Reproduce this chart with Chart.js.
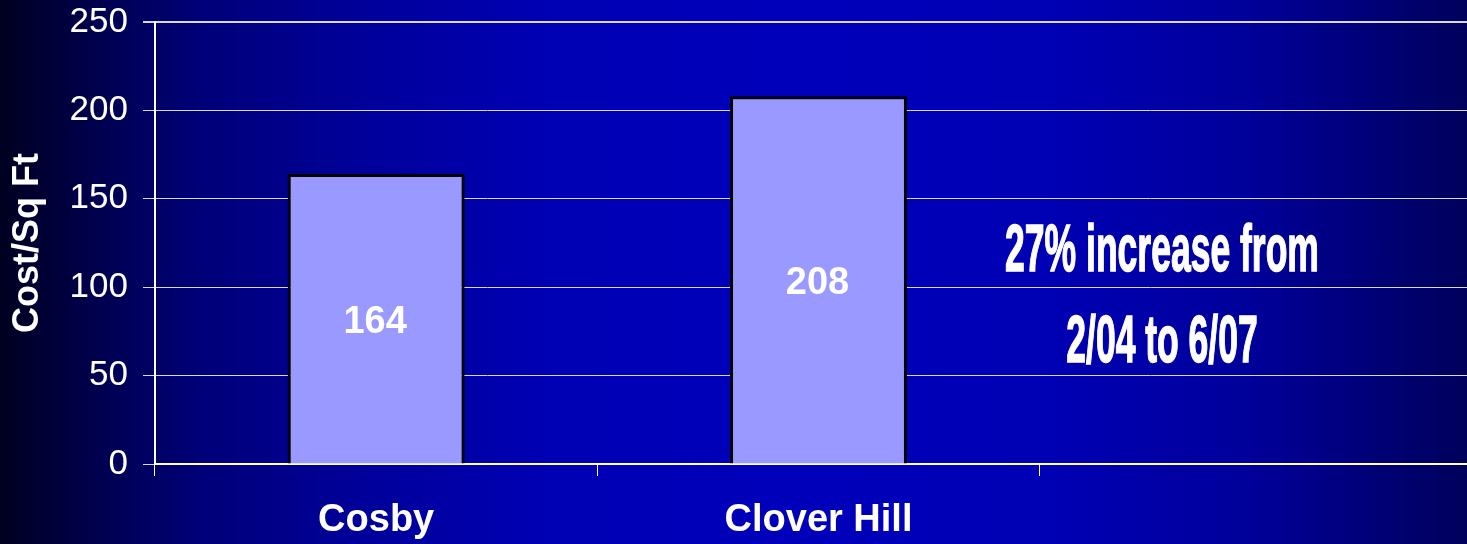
<!DOCTYPE html>
<html>
<head>
<meta charset="utf-8">
<script src="https://cdn.jsdelivr.net/npm/chart.js@4/dist/chart.umd.min.js"></script>
<style>
  html, body { margin: 0; padding: 0; overflow: hidden; }
  body {
    width: 1467px; height: 544px;
    background: linear-gradient(to right, #000020 0px, #000050 100px, #000078 200px, #000098 350px,
      #0000b4 550px, #0000bb 800px, #0000b4 1050px, #00009a 1250px, #00005c 1467px);
  }
  #wrap { width: 1490px; height: 544px; }
</style>
</head>
<body>
<div id="wrap"><canvas id="chart" width="1490" height="544"></canvas></div>
<script>
const categories = ['Cosby', 'Clover Hill', ''];
const costPerSqFt = [164, 208, null];
const yTicks = [0, 50, 100, 150, 200, 250];
const noteLines = ['27% increase from', '2/04 to 6/07'];

const FONT = '"Liberation Sans", Arial, sans-serif';

const valueLabels = {
    id: 'valueLabels',
    afterDatasetsDraw(chart) {
        const ctx = chart.ctx;
        const meta = chart.getDatasetMeta(0);
        ctx.save();
        ctx.fillStyle = '#ffffff';
        ctx.font = 'bold 38px ' + FONT;
        ctx.textAlign = 'center';
        ctx.textBaseline = 'middle';
        meta.data.forEach((bar, i) => {
            if (costPerSqFt[i] == null) return;
            ctx.fillText(String(costPerSqFt[i]), bar.x - 1, (bar.y + bar.base) / 2 + 4);
        });
        ctx.restore();
    }
};

const note = {
    id: 'note',
    afterDraw(chart) {
        const ctx = chart.ctx;
        const area = chart.chartArea;
        ctx.save();
        ctx.fillStyle = '#ffffff';
        ctx.strokeStyle = '#ffffff';
        ctx.lineWidth = 1.5;
        ctx.font = 'bold 67px ' + FONT;
        ctx.textAlign = 'center';
        ctx.textBaseline = 'middle';
        const cx = 1162;
        const ys = [area.top + 231, area.top + 322];
        noteLines.forEach((line, i) => {
            ctx.save();
            ctx.translate(cx, ys[i]);
            ctx.scale(0.53, 1);
            ctx.fillText(line, 0, 0);
            ctx.strokeText(line, 0, 0);
            ctx.restore();
        });
        ctx.restore();
    }
};

new Chart(document.getElementById('chart'), {
    type: 'bar',
    data: {
        labels: categories,
        datasets: [{
            data: costPerSqFt,
            backgroundColor: '#9999ff',
            borderColor: '#000000',
            borderWidth: 3,
            categoryPercentage: 1,
            barPercentage: 0.4
        }]
    },
    options: {
        responsive: false,
        animation: false,
        layout: { padding: { top: 22, right: 8, left: 0, bottom: 0 } },
        plugins: {
            legend: { display: false },
            tooltip: { enabled: false }
        },
        scales: {
            x: {
                afterFit(scale) {
                    scale.height = 80;
                    scale.paddingLeft = 0;
                    scale.paddingRight = 0;
                },
                grid: {
                    offset: true,
                    drawOnChartArea: false,
                    drawTicks: true,
                    tickLength: 12,
                    color: '#ffffff',
                    lineWidth: 1
                },
                border: { color: '#ffffff', width: 2 },
                ticks: {
                    color: '#ffffff',
                    font: { family: FONT, size: 38, weight: 'bold' },
                    padding: 22
                }
            },
            y: {
                min: 0,
                max: 250,
                afterFit(scale) {
                    scale.width = 155;
                    scale.paddingTop = 0;
                    scale.paddingBottom = 0;
                },
                afterBuildTicks(scale) { scale.ticks = yTicks.map(v => ({ value: v })); },
                grid: {
                    color: '#d8d8e8',
                    lineWidth: ctx => (ctx.tick && ctx.tick.value === 250 ? 2 : 1),
                    drawTicks: true,
                    tickLength: 12
                },
                border: { color: '#ffffff', width: 2 },
                ticks: {
                    color: '#ffffff',
                    font: { family: FONT, size: 35 },
                    padding: 15
                },
                title: {
                    display: true,
                    text: 'Cost/Sq Ft',
                    color: '#ffffff',
                    font: { family: FONT, size: 36, weight: 'bold' },
                    padding: { top: 6, bottom: 0 }
                }
            }
        }
    },
    plugins: [valueLabels, note]
});
</script>
</body>
</html>
